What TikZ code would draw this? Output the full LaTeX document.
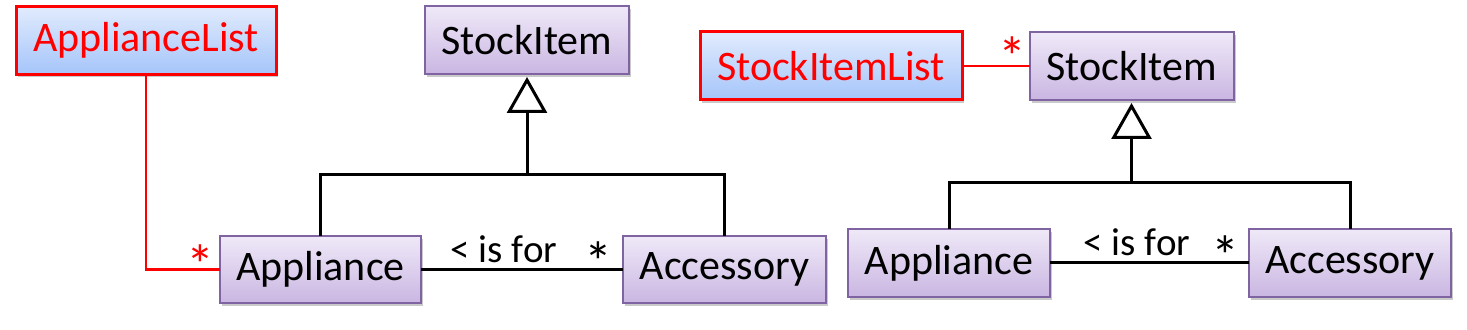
\documentclass[tikz,border=0pt]{standalone}
\usepackage{fontspec}
\setmainfont{Carlito}
\usetikzlibrary{arrows.meta,shadows}
\definecolor{purpTop}{HTML}{EFE9F8}
\definecolor{purpBot}{HTML}{CAB6E2}
\definecolor{purpLine}{HTML}{8064A2}
\definecolor{blueTop}{HTML}{E1EBFD}
\definecolor{blueBot}{HTML}{A5C5FA}
\definecolor{umlred}{HTML}{FF0000}
\tikzset{
  classbox/.style={draw=purpLine, line width=1pt, top color=purpTop, bottom color=purpBot,
    minimum height=34pt, inner sep=0pt, outer sep=0pt, font=\fontsize{21}{24}\selectfont,
    drop shadow={shadow xshift=1pt, shadow yshift=-1.5pt, opacity=0.35, fill=black!60}},
  listbox/.style={draw=umlred, line width=1.5pt, top color=blueTop, bottom color=blueBot,
    minimum height=34pt, inner sep=0pt, outer sep=0pt, text=umlred, font=\fontsize{21}{24}\selectfont,
    drop shadow={shadow xshift=1pt, shadow yshift=-1.5pt, opacity=0.35, fill=black!60}},
  conn/.style={line width=1.5pt, black},
  redconn/.style={line width=1.4pt, umlred},
  inherit/.style={line width=1.5pt, -{Triangle[open, length=18pt, width=20pt, line width=1.5pt]}, shorten >=1.5pt},
  rolelabel/.style={font=\fontsize{19.5}{22}\selectfont, inner sep=0pt, anchor=base},
  starlabel/.style={font=\fontsize{28}{30}\selectfont, inner sep=0pt},
}
\begin{document}
\begin{tikzpicture}[x=0.5pt, y=-0.5pt]
\useasboundingbox (0,0) rectangle (1467,330);
% left diagram
\node[listbox, minimum width=130pt] (al) at (146,40.5) {ApplianceList};
\node[classbox, minimum width=102pt] (si1) at (527,40) {StockItem};
\node[classbox, minimum width=100.5pt, minimum height=33.5pt] (ap1) at (320.5,269.5) {Appliance};
\node[classbox, minimum width=101.5pt, minimum height=33.5pt] (ac1) at (724.5,269.5) {Accessory};
\coordinate (j1) at (527,175);
\draw[conn] (ap1.north) |- (ac1.north |- j1) -- (ac1.north);
\draw[inherit] (j1) -- (si1.south);
\draw[conn] (ap1.east) -- (ac1.west);
\draw[redconn] (al.south) |- (ap1.west);
\node[rolelabel] (isfor1) at (504,263) {< is for};
\node[starlabel] (st1) at (598,262) {*};
\node[starlabel, text=umlred] (rst1) at (200,265) {*};
% right diagram
\node[listbox, minimum width=131pt] (sil) at (831,66) {StockItemList};
\node[classbox, minimum width=102pt] (si2) at (1131.5,66) {StockItem};
\node[classbox, minimum width=101pt] (ap2) at (949,263) {Appliance};
\node[classbox, minimum width=101pt] (ac2) at (1350,263) {Accessory};
\coordinate (j2) at (1131.5,183);
\draw[conn] (ap2.north) |- (ac2.north |- j2) -- (ac2.north);
\draw[inherit] (j2) -- (si2.south);
\draw[conn] (ap2.east) -- (ac2.west);
\draw[redconn] (sil.east) -- (si2.west);
\node[rolelabel] (isfor2) at (1137,256) {< is for};
\node[starlabel] (st2) at (1225,256) {*};
\node[starlabel, text=umlred] (rst2) at (1012.5,57) {*};
\end{tikzpicture}
\end{document}
